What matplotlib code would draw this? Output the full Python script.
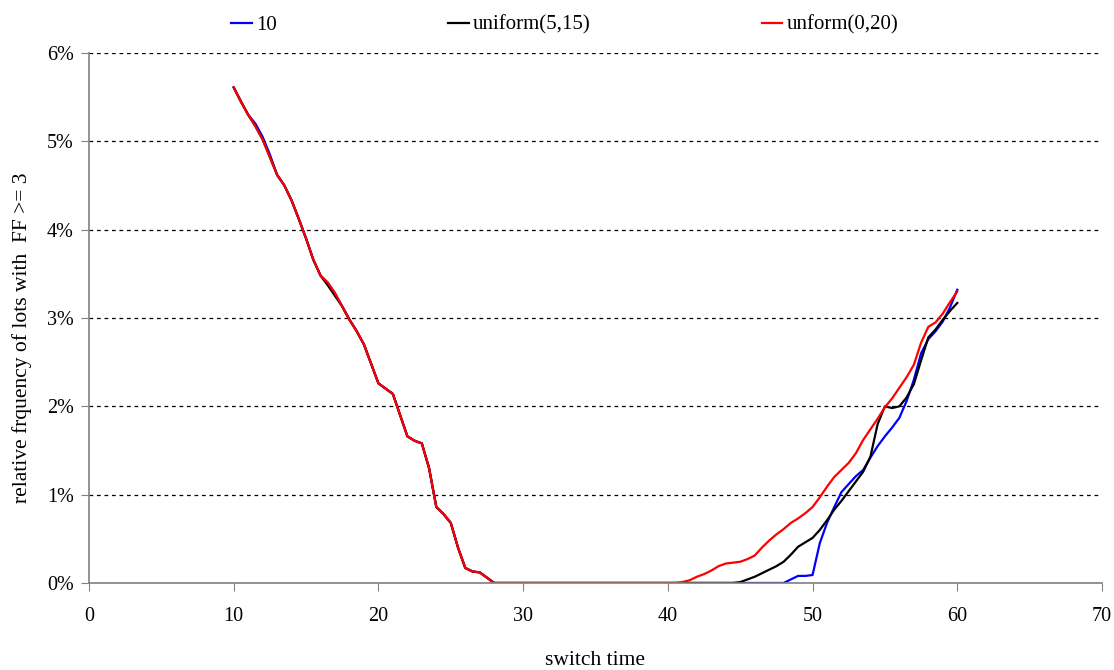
import numpy as np
import matplotlib
matplotlib.use('Agg')
import matplotlib.pyplot as plt
from matplotlib.ticker import FuncFormatter

plt.rcParams['font.family'] = ['Liberation Serif', 'DejaVu Serif']

# switch time grid (0.5 step)
switch_time = np.arange(10, 60.5, 0.5)

# falling part, common to all three series (10 .. 28)
left_part = [5.61, 5.45, 5.30, 5.17, 5.02, 4.82, 4.62, 4.50, 4.33, 4.12,
             3.90, 3.66, 3.48, 3.40, 3.28, 3.13, 2.98, 2.85, 2.70, 2.48,
             2.26, 2.20, 2.14, 1.90, 1.66, 1.61, 1.58, 1.30, 0.86, 0.78,
             0.68, 0.40, 0.17, 0.13, 0.12, 0.06, 0.0]

# rising parts
blue_right = [0.04, 0.08, 0.08, 0.09, 0.45, 0.68, 0.86, 1.03, 1.12, 1.21,
              1.28, 1.42, 1.55, 1.66, 1.76, 1.87, 2.06, 2.30, 2.60, 2.76,
              2.85, 2.96, 3.12, 3.32]                      # 48.5 .. 60
black_right = [0.01, 0.04, 0.07, 0.11, 0.15, 0.19, 0.24, 0.32, 0.41, 0.46,
               0.51, 0.60, 0.71, 0.83, 0.93, 1.04, 1.15, 1.26, 1.43, 1.80,
               2.00, 1.98, 2.00, 2.10, 2.25, 2.52, 2.78, 2.87, 2.98, 3.08,
               3.17]                                       # 45 .. 60
red_right = [0.01, 0.03, 0.07, 0.10, 0.14, 0.19, 0.22, 0.23, 0.24, 0.27,
             0.31, 0.40, 0.48, 0.55, 0.61, 0.68, 0.73, 0.79, 0.86, 0.97,
             1.09, 1.20, 1.28, 1.36, 1.47, 1.62, 1.74, 1.86, 1.99, 2.09,
             2.21, 2.33, 2.47, 2.72, 2.90, 2.95, 3.05, 3.18, 3.30]  # 41 .. 60


def build(right):
    n_zero = len(switch_time) - len(left_part) - len(right)
    return np.array(left_part + [0.0] * n_zero + right) / 100.0


fixed_10 = build(blue_right)
uni_5_15 = build(black_right)
uni_0_20 = build(red_right)
# small visible deviations on the falling part
fixed_10[3:6] += 0.0003
uni_5_15[13:15] -= 0.0003

fig = plt.figure(figsize=(11.14, 6.7), dpi=100)
ax = fig.add_axes([0.0799, 0.1299, 0.9093, 0.791])

ax.plot(switch_time, fixed_10, color='#0000ff', lw=1.6, label='10')
ax.plot(switch_time, uni_5_15, color='black', lw=1.6, label='uniform(5,15)')
ax.plot(switch_time, uni_0_20, color='#ff0000', lw=1.6, label='unform(0,20)')

ax.set_xlim(0, 70)
ax.set_ylim(0, 0.06)
ax.set_xticks(np.arange(0, 71, 10))
ax.set_yticks(np.arange(0, 0.061, 0.01))
ax.yaxis.set_major_formatter(FuncFormatter(lambda v, p: '%d%%' % round(v * 100)))

ax.grid(axis='y', color='black', linestyle=(0, (3, 3)), linewidth=0.9)
ax.set_axisbelow(True)
for s in ['top', 'right']:
    ax.spines[s].set_visible(False)
for s in ['left', 'bottom']:
    ax.spines[s].set_color('#808080')
    ax.spines[s].set_linewidth(1.2)

ax.tick_params(axis='x', direction='out', length=6, color='#808080',
               labelsize=14.5, pad=11)
ax.tick_params(axis='y', direction='out', length=6, color='#808080',
               labelsize=14.5, pad=5)

ax.set_xlabel('switch time', fontsize=15.5, labelpad=18)
ax.set_ylabel('relative frquency of lots with  FF >= 3', fontsize=15.5)
ax.yaxis.set_label_coords(-0.056, 0.462)

fig.legend(loc='upper center', bbox_to_anchor=(0.507, 1.005), ncol=3,
           frameon=False, fontsize=15, handlelength=1.0, handletextpad=0.2,
           columnspacing=8.2)

fig.savefig('out.png', dpi=100)
